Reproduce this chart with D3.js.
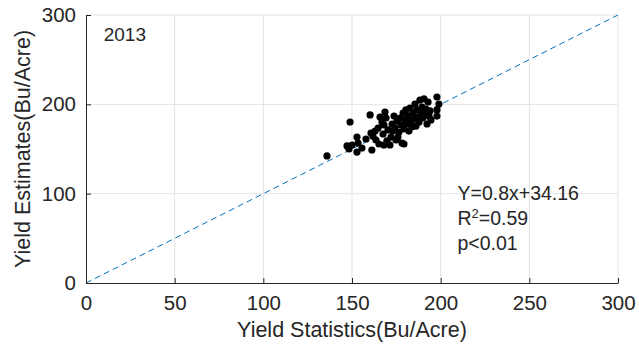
<!DOCTYPE html>
<html>
<head>
<meta charset="utf-8">
<script src="https://cdn.jsdelivr.net/npm/d3@7"></script>
<style>
  body { margin: 0; background: #fff; }
  text { font-family: "Liberation Sans", Arial, sans-serif; fill: #262626; }
</style>
</head>
<body>
<svg id="chart"></svg>
<script>
// yield statistics (x) and yield estimates (y), Bu/Acre, year 2013
const statX = [135.9, 148.9, 147.2, 148.3, 150.0, 152.8, 152.8, 153.4, 160.2, 160.7,
               161.8, 163.0, 163.5, 164.7, 165.8, 166.9, 167.5, 168.0, 169.2, 169.7,
               170.3, 171.4, 172.0, 172.6, 173.7, 174.2, 174.8, 175.4, 176.5, 177.1,
               177.6, 178.2, 178.8, 179.3, 179.9, 180.4, 181.0, 181.6, 182.1, 182.7,
               183.3, 183.8, 184.4, 185.0, 185.5, 186.1, 186.6, 187.2, 187.8, 188.3,
               188.9, 189.5, 190.0, 190.6, 191.2, 191.7, 192.3, 192.9, 193.4, 194.0,
               194.5, 197.9, 197.9, 197.9, 199.0, 179.3, 155.6, 157.9, 165.2, 168.0,
               161.2, 175.9, 173.1, 168.6];
const estY  = [142.2, 180.2, 153.4, 150.0, 154.5, 163.4, 146.6, 156.7, 188.1, 167.9,
               164.5, 170.1, 160.1, 173.5, 185.8, 180.2, 166.8, 176.9, 184.7, 159.0,
               171.3, 154.5, 163.4, 178.0, 186.9, 173.5, 160.1, 181.3, 169.0, 184.7,
               176.9, 156.7, 190.3, 172.4, 182.5, 193.7, 178.0, 187.0, 170.1, 195.9,
               181.3, 174.6, 190.3, 183.6, 200.4, 175.7, 193.7, 185.8, 180.2, 204.8,
               191.4, 197.0, 184.7, 206.0, 189.2, 194.8, 178.0, 202.6, 186.9, 192.6,
               182.5, 208.2, 193.7, 186.9, 200.4, 155.6, 151.1, 161.2, 155.6, 154.5,
               148.9, 163.4, 170.1, 191.4];
const xTicks = [0, 50, 100, 150, 200, 250, 300];
const yTicks = [0, 100, 200, 300];
const yearLabel = "2013";
const statsLines = ["Y=0.8x+34.16", "R2=0.59", "p<0.01"];

const width = 639, height = 348;
const margin = {top: 15, right: 21, bottom: 65, left: 86};
const innerW = width - margin.left - margin.right;
const innerH = height - margin.top - margin.bottom;

const svg = d3.select("#chart")
    .attr("width", width)
    .attr("height", height);

const chart = svg.append("g")
    .attr("transform", `translate(${margin.left}, ${margin.top})`);

const xscale = d3.scaleLinear().domain([0, 300]).range([0, innerW]);
const yscale = d3.scaleLinear().domain([0, 300]).range([innerH, 0]);

// grid
chart.append("g")
    .selectAll("line")
    .data(xTicks.slice(1))
    .join("line")
    .attr("x1", d => xscale(d)).attr("x2", d => xscale(d))
    .attr("y1", 0).attr("y2", innerH)
    .attr("stroke", "#e3e3e3");

chart.append("g")
    .selectAll("line")
    .data(yTicks.slice(1))
    .join("line")
    .attr("x1", 0).attr("x2", innerW)
    .attr("y1", d => yscale(d)).attr("y2", d => yscale(d))
    .attr("stroke", "#e3e3e3");

// 1:1 line
chart.append("line")
    .attr("x1", xscale(0)).attr("y1", yscale(0))
    .attr("x2", xscale(300)).attr("y2", yscale(300))
    .attr("stroke", "#0072bd")
    .attr("stroke-width", 1)
    .attr("stroke-dasharray", "6,4");

// points
chart.append("g")
    .selectAll("circle")
    .data(statX.map((x, i) => ({x: x, y: estY[i]})))
    .join("circle")
    .attr("cx", d => xscale(d.x))
    .attr("cy", d => yscale(d.y))
    .attr("r", 3.6)
    .attr("fill", "#000");

// axes (ticks inward like matlab)
const xaxis = d3.axisBottom(xscale).tickValues(xTicks).tickSizeInner(-5).tickSizeOuter(0).tickPadding(12);
const yaxis = d3.axisLeft(yscale).tickValues(yTicks).tickSizeInner(-5).tickSizeOuter(0).tickPadding(10);

const xg = chart.append("g")
    .attr("transform", `translate(0, ${innerH})`)
    .call(xaxis);
const yg = chart.append("g").call(yaxis);

[xg, yg].forEach(g => {
    g.select(".domain").attr("stroke", "#262626");
    g.selectAll(".tick line").attr("stroke", "#262626");
    g.selectAll(".tick text")
        .attr("fill", "#262626")
        .style("font-family", '"Liberation Sans", Arial, sans-serif')
        .style("font-size", "20.5px");
});

// axis labels
chart.append("text")
    .attr("x", innerW / 2)
    .attr("y", innerH + 54)
    .attr("text-anchor", "middle")
    .style("font-size", "21.5px")
    .text("Yield Statistics(Bu/Acre)");

chart.append("text")
    .attr("transform", "rotate(-90)")
    .attr("x", -innerH / 2)
    .attr("y", -56)
    .attr("text-anchor", "middle")
    .style("font-size", "21.5px")
    .text("Yield Estimates(Bu/Acre)");

// year
chart.append("text")
    .attr("x", xscale(10))
    .attr("y", 26)
    .style("font-size", "19px")
    .text(yearLabel);

// regression text
const sx = xscale(209.5);
chart.append("text").attr("x", sx).attr("y", 185).style("font-size", "19.5px").text(statsLines[0]);
const r2 = chart.append("text").attr("x", sx).attr("y", 210).style("font-size", "19.5px");
r2.append("tspan").text("R");
r2.append("tspan").attr("dy", -7).style("font-size", "13px").text("2");
r2.append("tspan").attr("dy", 7).text("=0.59");
chart.append("text").attr("x", sx).attr("y", 235).style("font-size", "19.5px").text(statsLines[2]);
</script>
</body>
</html>
